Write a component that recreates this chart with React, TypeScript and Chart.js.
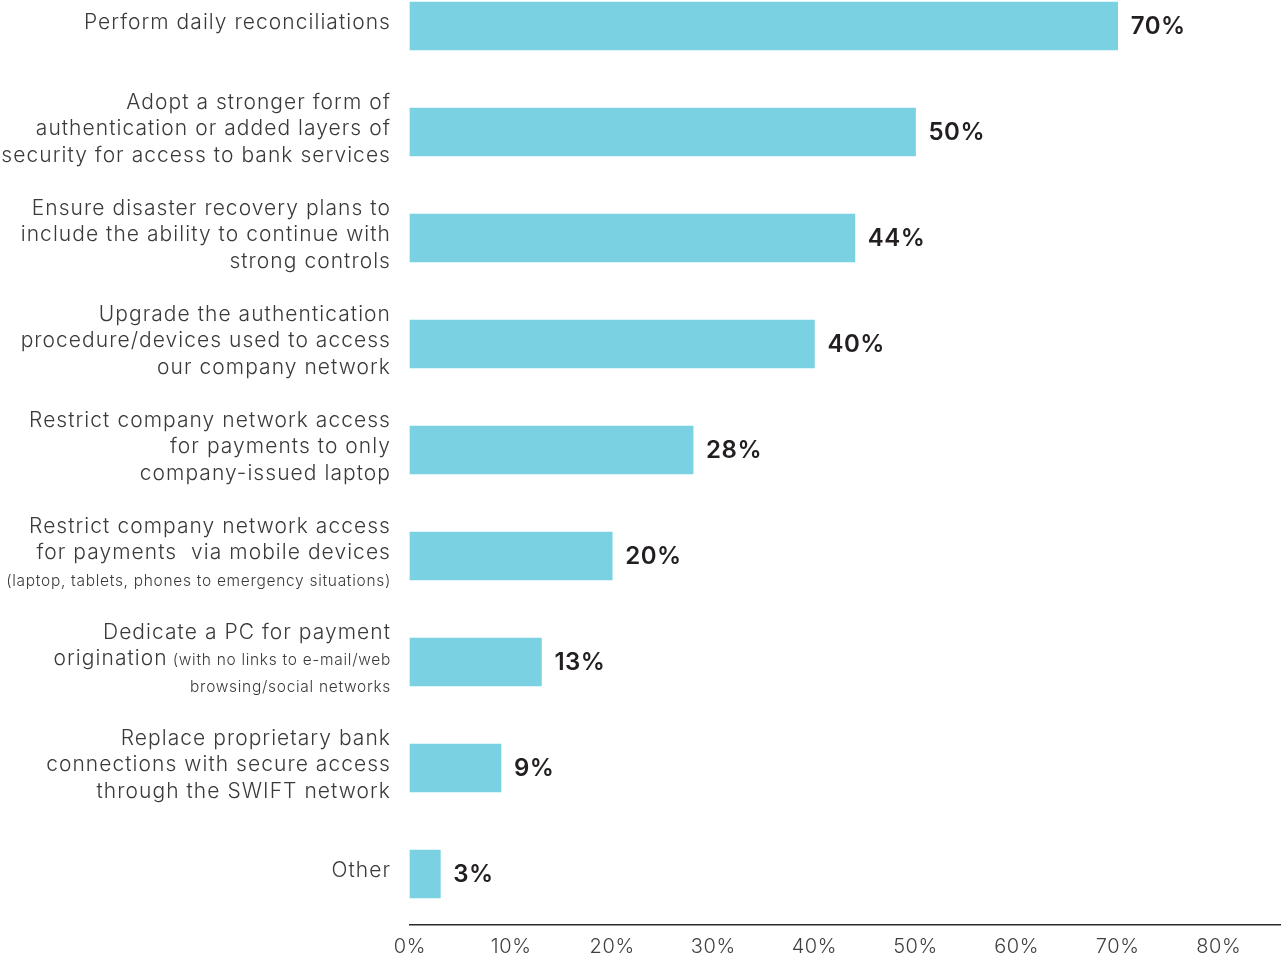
import React, { useEffect, useRef } from "react";
import { Chart, registerables } from "chart.js";

Chart.register(...registerables);

// Each line: [regular text, small text appended after it]
const categoryLines: [string, string][][] = [
  [["Perform daily reconciliations", ""]],
  [
    ["Adopt a stronger form of", ""],
    ["authentication or added layers of", ""],
    ["security for access to bank services", ""],
  ],
  [
    ["Ensure disaster recovery plans to", ""],
    ["include the ability to continue with", ""],
    ["strong controls", ""],
  ],
  [
    ["Upgrade the authentication", ""],
    ["procedure/devices used to access", ""],
    ["our company network", ""],
  ],
  [
    ["Restrict company network access", ""],
    ["for payments to only", ""],
    ["company-issued laptop", ""],
  ],
  [
    ["Restrict company network access", ""],
    ["for payments  via mobile devices", ""],
    ["", "(laptop, tablets, phones to emergency situations)"],
  ],
  [
    ["Dedicate a PC for payment", ""],
    ["origination", " (with no links to e-mail/web"],
    ["", "browsing/social networks"],
  ],
  [
    ["Replace proprietary bank", ""],
    ["connections with secure access", ""],
    ["through the SWIFT network", ""],
  ],
  [["Other", ""]],
];

const values: number[] = [70, 50, 44, 40, 28, 20, 13, 9, 3];

const xTickValues: number[] = [0, 10, 20, 30, 40, 50, 60, 70, 80];

const FONT = "Inter, Lato, sans-serif";

export default function App() {
  const ref = useRef<HTMLCanvasElement | null>(null);

  useEffect(() => {
    const canvas = ref.current;
    if (!canvas) return;

    const labelsPlugin = {
      id: "categoryLabels",
      beforeDraw(chart: any) {
        (chart.ctx as any).letterSpacing = "0.6px";
      },
      afterDraw(chart: any) {
        const ctx = chart.ctx;
        const yScale = chart.scales.y;
        const xRight = 391;
        const lineH = 26.6;
        ctx.save();
        ctx.textBaseline = "middle";
        ctx.textAlign = "right";
        ctx.fillStyle = "#3a3a3a";
        categoryLines.forEach((lines, i) => {
          const cy = yScale.getPixelForValue(i) - 3;
          const n = lines.length;
          lines.forEach(([main, small], j) => {
            const y = cy + (j - (n - 1) / 2) * lineH + (small && !main ? 1 : 0);
            let x = xRight;
            if (small) {
              ctx.font = `300 15.5px ${FONT}`;
              (ctx as any).letterSpacing = "0.7px";
              ctx.fillText(small, x, y + 1);
              x -= ctx.measureText(small).width;
            }
            if (main) {
              ctx.font = `300 21px ${FONT}`;
              (ctx as any).letterSpacing = "1.05px";
              ctx.fillText(main, x, y);
            }
          });
        });
        ctx.restore();
      },
      afterDatasetsDraw(chart: any) {
        const ctx = chart.ctx;
        const meta = chart.getDatasetMeta(0);
        ctx.save();
        ctx.font = `600 24px ${FONT}`;
        (ctx as any).letterSpacing = "0.5px";
        ctx.fillStyle = "#231f20";
        ctx.textAlign = "left";
        ctx.textBaseline = "middle";
        meta.data.forEach((bar: any, i: number) => {
          ctx.fillText(values[i] + "%", bar.x + 13, bar.y + 1);
        });
        ctx.restore();
      },
    };

    const chart = new Chart(canvas, {
      type: "bar",
      data: {
        datasets: [
          {
            data: values.map((v, i) => ({ x: v, y: i })),
            backgroundColor: "#79d1e2",
            borderWidth: 0,
            barThickness: 48,
            clip: false as any,
          },
        ],
      },
      options: {
        indexAxis: "y",
        animation: false,
        responsive: false,
        maintainAspectRatio: false,
        layout: { padding: { left: 410, right: 0, top: 0, bottom: 0 } },
        scales: {
          x: {
            type: "linear",
            min: 0,
            max: 86.15,
            position: "bottom",
            offset: false,
            afterBuildTicks: (s: any) => {
              s.ticks = xTickValues.map((v) => ({ value: v }));
            },
            afterFit: (s: any) => {
              s.height = 33;
            },
            ticks: {
              callback: (v: any) => v + "%",
              font: { family: FONT, size: 20, weight: "300" as any },
              color: "#3f3f3f",
              padding: 10,
              maxRotation: 0,
              autoSkip: false,
            },
            grid: { display: false, drawTicks: false },
            border: { display: true, color: "#2a2a2a", width: 1.5 },
          },
          y: {
            type: "linear",
            reverse: true,
            offset: false,
            min: -0.245,
            max: 8.481,
            display: false,
          },
        },
        plugins: {
          legend: { display: false },
          tooltip: { enabled: false },
        },
      },
      plugins: [labelsPlugin],
    } as any);

    return () => chart.destroy();
  }, []);

  return (
    <div style={{ position: "absolute", left: 0, top: 0, width: 1281, height: 958 }}>
      <canvas ref={ref} width={1281} height={958} style={{ display: "block" }} />
    </div>
  );
}
